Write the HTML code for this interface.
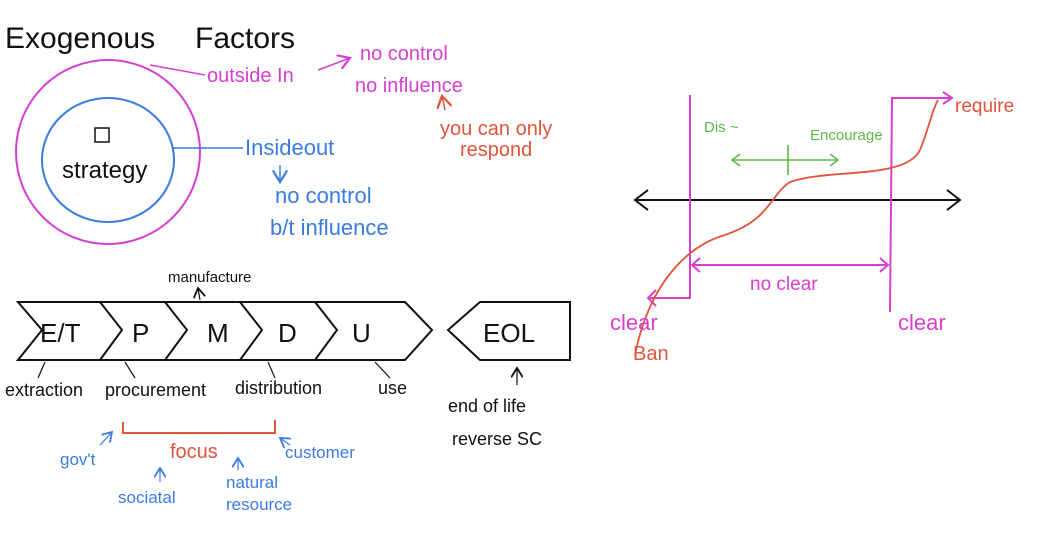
<!DOCTYPE html>
<html><head><meta charset="utf-8"><style>
html,body{margin:0;padding:0;background:#fff;}
svg{display:block;}
text{font-family:"Liberation Sans",sans-serif;}
</style></head><body>
<svg width="1049" height="533" viewBox="0 0 1049 533" xmlns="http://www.w3.org/2000/svg">
<defs>
<marker id="a" markerWidth="10" markerHeight="10" refX="8" refY="5" orient="auto"><path d="M0,0 L8,5 L0,10" fill="none" stroke="context-stroke" stroke-width="1.5"/></marker>
</defs>
<g font-size="30" fill="#111"><text x="5" y="48">Exogenous</text><text x="195" y="48">Factors</text></g>
<ellipse cx="108" cy="152" rx="92" ry="92" fill="none" stroke="#d63fcf" stroke-width="2"/>
<ellipse cx="108" cy="160" rx="66" ry="62" fill="none" stroke="#3b7be0" stroke-width="2"/>
<rect x="95" y="128" width="14" height="14" fill="none" stroke="#111" stroke-width="1.5"/>
<text x="62" y="178" font-size="24" fill="#111">strategy</text>
<line x1="150" y1="65" x2="205" y2="75" stroke="#d63fcf" stroke-width="1.5"/>
<text x="207" y="82" font-size="20" fill="#d63fcf">outside In</text>
<line x1="318" y1="70" x2="350" y2="58" stroke="#d63fcf" stroke-width="1.5" marker-end="url(#a)"/>
<text x="360" y="60" font-size="20" fill="#d63fcf">no control</text>
<text x="355" y="92" font-size="20" fill="#d63fcf">no influence</text>
<line x1="445" y1="110" x2="442" y2="96" stroke="#e0543a" stroke-width="1.5" marker-end="url(#a)"/>
<text x="440" y="135" font-size="20" fill="#e0543a">you can only</text>
<text x="460" y="156" font-size="20" fill="#e0543a">respond</text>
<line x1="172" y1="148" x2="243" y2="148" stroke="#3b7be0" stroke-width="1.5"/>
<text x="245" y="155" font-size="22" fill="#3b7be0">Insideout</text>
<line x1="280" y1="165" x2="280" y2="182" stroke="#3b7be0" stroke-width="1.5" marker-end="url(#a)"/>
<text x="275" y="203" font-size="22" fill="#3b7be0">no control</text>
<text x="270" y="235" font-size="22" fill="#3b7be0">b/t  influence</text>
<text x="168" y="282" font-size="15" fill="#111">manufacture</text>
<line x1="200" y1="300" x2="198" y2="288" stroke="#111" stroke-width="1.2" marker-end="url(#a)"/>
<g fill="none" stroke="#111" stroke-width="2">
<path d="M18,302 L100,302 L122,330 L100,360 L18,360 L42,330 Z"/>
<path d="M100,302 L165,302 L187,330 L165,360 L100,360"/>
<path d="M165,302 L240,302 L262,330 L240,360 L165,360"/>
<path d="M240,302 L315,302 L337,330 L315,360 L240,360"/>
<path d="M315,302 L405,302 L432,330 L405,360 L315,360"/>
<path d="M480,302 L570,302 L570,360 L480,360 L448,330 Z"/>
</g>
<g font-size="26" fill="#111"><text x="40" y="342">E/T</text><text x="132" y="342">P</text><text x="207" y="342">M</text><text x="278" y="342">D</text><text x="352" y="342">U</text><text x="483" y="342">EOL</text></g>
<g stroke="#111" stroke-width="1.2"><line x1="45" y1="362" x2="38" y2="378"/><line x1="125" y1="362" x2="135" y2="378"/><line x1="268" y1="362" x2="275" y2="378"/><line x1="375" y1="362" x2="390" y2="378"/></g>
<g font-size="18" fill="#111"><text x="5" y="396">extraction</text><text x="105" y="396">procurement</text><text x="235" y="394">distribution</text><text x="378" y="394">use</text>
<text x="448" y="412">end of life</text><text x="452" y="445">reverse  SC</text></g>
<line x1="517" y1="385" x2="517" y2="368" stroke="#111" stroke-width="1.2" marker-end="url(#a)"/>
<path d="M123,422 L123,433 L275,433 L275,420" fill="none" stroke="#e0543a" stroke-width="2"/>
<text x="170" y="458" font-size="20" fill="#e0543a">focus</text>
<g font-size="17" fill="#3b7be0"><text x="60" y="465">gov't</text><text x="285" y="458">customer</text><text x="118" y="503">sociatal</text><text x="226" y="488">natural</text><text x="226" y="510">resource</text></g>
<g stroke="#3b7be0" stroke-width="1.2" fill="none"><line x1="100" y1="445" x2="112" y2="432" marker-end="url(#a)"/><line x1="290" y1="445" x2="280" y2="438" marker-end="url(#a)"/><line x1="160" y1="482" x2="160" y2="468" marker-end="url(#a)"/><line x1="238" y1="470" x2="238" y2="458" marker-end="url(#a)"/></g>
<line x1="635" y1="200" x2="960" y2="200" stroke="#111" stroke-width="2"/>
<path d="M648,190 L635,200 L648,210 M947,190 L960,200 L947,210" fill="none" stroke="#111" stroke-width="2"/>
<g stroke="#d63fcf" stroke-width="2" fill="none">
<path d="M690,95 L690,298 L650,298"/><path d="M656,290 L648,298 L656,306"/>
<path d="M890,312 L892,98 L950,98"/><path d="M943,92 L952,98 L943,104"/>
<line x1="692" y1="265" x2="888" y2="265"/><path d="M700,258 L692,265 L700,272 M880,258 L888,265 L880,272"/>
</g>
<path d="M635,355 C650,280 690,245 725,235 C770,220 770,195 790,182 C830,168 905,180 920,150 C930,125 932,110 938,100" fill="none" stroke="#e0543a" stroke-width="1.8"/>
<g stroke="#5cb84a" stroke-width="1.6" fill="none"><line x1="732" y1="160" x2="838" y2="160"/><path d="M740,154 L732,160 L740,166 M830,154 L838,160 L830,166"/><line x1="788" y1="145" x2="788" y2="175"/></g>
<text x="704" y="132" font-size="15" fill="#5cb84a">Dis ~</text>
<text x="810" y="140" font-size="15" fill="#5cb84a">Encourage</text>
<text x="955" y="112" font-size="19" fill="#e0543a">require</text>
<text x="750" y="290" font-size="19" fill="#d63fcf">no clear</text>
<text x="610" y="330" font-size="22" fill="#d63fcf">clear</text>
<text x="898" y="330" font-size="22" fill="#d63fcf">clear</text>
<text x="633" y="360" font-size="20" fill="#e0543a">Ban</text>
</svg>
</body></html>
